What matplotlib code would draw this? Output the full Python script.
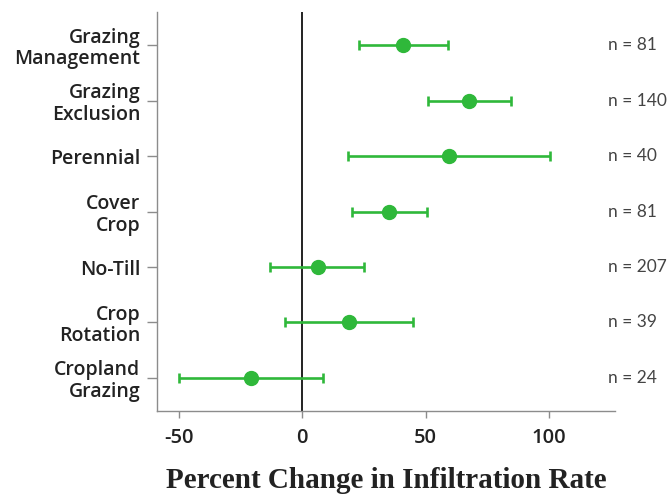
import numpy as np
import matplotlib.pyplot as plt

practices = ["Grazing\nManagement", "Grazing\nExclusion", "Perennial", "Cover\nCrop",
             "No-Till", "Crop\nRotation", "Cropland\nGrazing"]
effect = [40.9, 67.8, 59.6, 35.2, 6.2, 18.9, -21.0]
ci_low = [23.1, 51.1, 18.5, 20.1, -13.0, -7.2, -49.9]
ci_high = [59.2, 84.5, 100.7, 50.5, 25.2, 45.1, 8.4]
n_obs = [81, 140, 40, 81, 207, 39, 24]

plt.rcParams["axes.unicode_minus"] = False

green = "#2fb83a"
grey = "#8c8c8c"
sans = ["Open Sans", "DejaVu Sans"]

fig = plt.figure(figsize=(6.68, 4.99), dpi=100)
ax = fig.add_axes([0.235, 0.176, 0.686, 0.8])

y = np.arange(len(practices))[::-1]
eff = np.array(effect)
lo = eff - np.array(ci_low)
hi = np.array(ci_high) - eff

ax.axvline(0, color="#222222", lw=1.4, zorder=1)
ax.errorbar(eff, y, xerr=[lo, hi], fmt="o", color=green, ms=10,
            elinewidth=1.9, capsize=3.5, capthick=1.9, zorder=3)

for yi, n in zip(y, n_obs):
    ax.text(124, yi, f"n = {n}", va="center", ha="left", fontsize=12.5,
            color="#444444", family=["Lato", "DejaVu Sans"], clip_on=False)

ax.set_xlim(-59, 127)
ax.set_ylim(-0.6, 6.6)
ax.set_xticks([-50, 0, 50, 100])
ax.set_yticks(y)
ax.set_yticklabels(practices, fontsize=14, fontweight="semibold",
                   family=sans, color="#222222", linespacing=1.1)
for lab in ax.get_xticklabels():
    lab.set_fontsize(14.5)
    lab.set_family(sans)
    lab.set_fontweight("semibold")
    lab.set_color("#222222")

ax.spines["top"].set_visible(False)
ax.spines["right"].set_visible(False)
for s in ("left", "bottom"):
    ax.spines[s].set_color(grey)
    ax.spines[s].set_linewidth(1.0)
ax.tick_params(axis="y", length=7, color=grey, width=1.0, pad=5)
ax.tick_params(axis="x", length=5, color=grey, width=1.0, pad=7)

ax.set_xlabel("Percent Change in Infiltration Rate", family="Liberation Serif",
              fontweight="bold", fontsize=21, color="#222222", labelpad=14)

fig.savefig("out.png", dpi=100)
